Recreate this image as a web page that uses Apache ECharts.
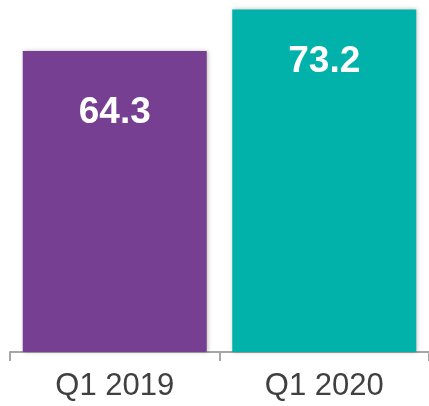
<!DOCTYPE html>
<html>
<head>
<meta charset="utf-8">
<script src="https://cdn.jsdelivr.net/npm/echarts@6/dist/echarts.min.js"></script>
<style>
	html, body { margin: 0; padding: 0; background: #fff; }
	#chart { width: 429px; height: 406px; }
</style>
</head>
<body>
<div id="chart"></div>
<script>
	// 数据
	var categories = ['Q1 2019', 'Q1 2020'];
	var values = [64.3, 73.2];
	var barColors = ['#773F91', '#00B2AA'];
	var labelOffsets = [43, 34];

	var chart = echarts.init(document.getElementById('chart'));

	var seriesData = values.map(function (v, i) {
		return {
			value: v,
			itemStyle: { color: barColors[i] },
			label: { distance: labelOffsets[i] }
		};
	});

	var option = {
		animation: false,
		grid: { left: 10, right: -3, top: 1, bottom: 54 },
		xAxis: {
			type: 'category',
			data: categories,
			axisLine: { lineStyle: { color: '#A6A6A6', width: 2 } },
			axisTick: { show: true, length: 9, lineStyle: { color: '#A6A6A6', width: 2 } },
			axisLabel: {
				color: '#404040',
				fontSize: 31,
				fontFamily: 'Liberation Sans, Arial, sans-serif',
				margin: 19
			}
		},
		yAxis: {
			type: 'value',
			min: 0,
			max: 75,
			show: false,
			splitLine: { show: false }
		},
		series: [{
			type: 'bar',
			barWidth: 184,
			data: seriesData,
			itemStyle: {
				shadowBlur: 4,
				shadowColor: 'rgba(0,0,0,0.25)',
				shadowOffsetX: 1,
				shadowOffsetY: 0
			},
			label: {
				show: true,
				position: 'insideTop',
				color: '#fff',
				fontSize: 37,
				fontWeight: 'bold',
				fontFamily: 'Liberation Sans, Arial, sans-serif'
			}
		}]
	};

	chart.setOption(option);
</script>
</body>
</html>
